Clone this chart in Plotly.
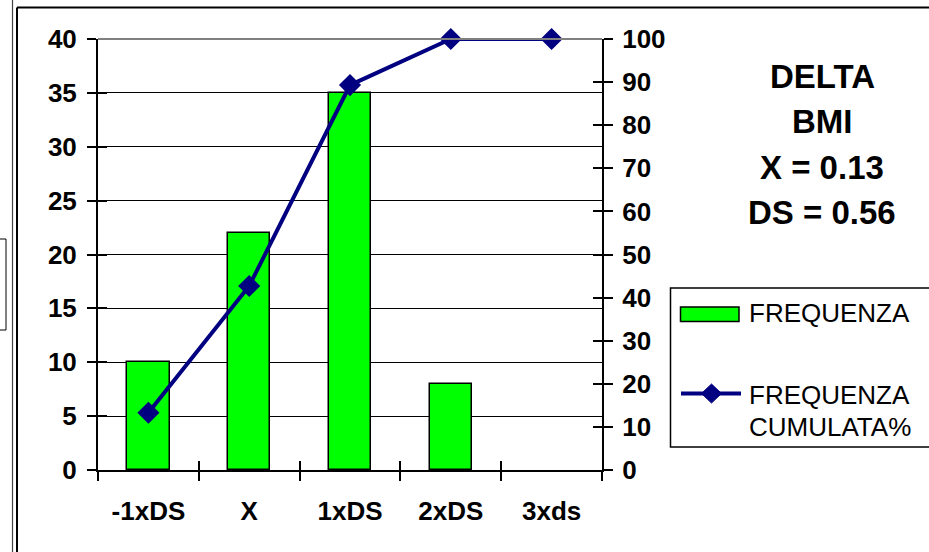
import plotly.graph_objects as go

# ---- data -----------------------------------------------------------------
categories = ["-1xDS", "X", "1xDS", "2xDS", "3xds"]
frequenza = [10, 22, 35, 8, 0]
cumulata_pct = [13.3, 42.7, 89.3, 100, 100]
left_ticks = [0, 5, 10, 15, 20, 25, 30, 35, 40]
right_ticks = [0, 10, 20, 30, 40, 50, 60, 70, 80, 90, 100]
info_lines = ["DELTA", "BMI", "X = 0.13", "DS = 0.56"]
legend_bar_label = "FREQUENZA"
legend_line_label = ["FREQUENZA", "CUMULATA%"]

# ---- geometry of the page ---------------------------------------------------
W, H = 929, 552
ML, MR, MT, MB = 98, 327, 39, 82
PW, PH = W - ML - MR, H - MT - MB


def px(x):
    """pixel x -> paper x"""
    return (x - ML) / PW


def py(y):
    """pixel y -> paper y"""
    return (H - MB - y) / PH


FONT = "Liberation Sans"
GREEN = "#00FF00"
NAVY = "#000080"

fig = go.Figure()

# empty bars get no outline
bar_outline = [1.5 if v > 0 else 0 for v in frequenza]

fig.add_trace(go.Bar(
    x=categories, y=frequenza, name=legend_bar_label,
    width=0.42,
    marker=dict(color=GREEN, line=dict(color="black", width=bar_outline)),
))

fig.add_trace(go.Scatter(
    x=categories, y=cumulata_pct, yaxis="y2",
    name="<br>".join(legend_line_label),
    mode="lines+markers", cliponaxis=False,
    line=dict(color=NAVY, width=4),
    marker=dict(symbol="diamond", size=17, color=NAVY),
))

# empty traces so the inward-tick companion axes get rendered
for xa, ya in [("x2", "y"), ("x", "y3"), ("x", "y4")]:
    fig.add_trace(go.Scatter(x=[], y=[], xaxis=xa, yaxis=ya,
                             showlegend=False, hoverinfo="skip"))

tick_font = dict(family=FONT, size=26, color="black", weight="bold")
n = len(categories)
bounds = [i - 0.5 for i in range(n + 1)]

layout_axes = dict(
    xaxis=dict(
        type="category", categoryorder="array", categoryarray=categories,
        range=[-0.5, n - 0.5], tickson="boundaries",
        ticks="outside", ticklen=9, tickwidth=1.5, tickcolor="black",
        showline=True, linecolor="black", linewidth=2,
        showgrid=False, zeroline=False, tickfont=tick_font,
        ticklabelstandoff=17,
    ),
    xaxis2=dict(
        overlaying="x", anchor="y", side="bottom", type="linear",
        range=[-0.5, n - 0.5], tickmode="array", tickvals=bounds,
        ticks="inside", ticklen=9, tickwidth=1.5, tickcolor="black",
        showticklabels=False, showgrid=False, showline=False, zeroline=False,
    ),
    yaxis=dict(
        range=[0, 40], tickmode="array", tickvals=left_ticks,
        ticks="outside", ticklen=9, tickwidth=1.5, tickcolor="black",
        showline=True, linecolor="black", linewidth=2,
        showgrid=True, gridcolor="black", gridwidth=1, zeroline=False,
        tickfont=tick_font, ticklabelstandoff=5,
    ),
    yaxis3=dict(
        overlaying="y", anchor="x", side="left",
        range=[0, 40], tickmode="array", tickvals=left_ticks,
        ticks="inside", ticklen=9, tickwidth=1.5, tickcolor="black",
        showticklabels=False, showgrid=False, showline=False, zeroline=False,
    ),
    yaxis2=dict(
        overlaying="y", anchor="x", side="right",
        range=[0, 100], tickmode="array", tickvals=right_ticks,
        ticks="outside", ticklen=9, tickwidth=1.5, tickcolor="black",
        showline=True, linecolor="black", linewidth=2,
        showgrid=False, zeroline=False, tickfont=tick_font,
        ticklabelstandoff=4,
    ),
    yaxis4=dict(
        overlaying="y", anchor="x", side="right",
        range=[0, 100], tickmode="array", tickvals=right_ticks,
        ticks="inside", ticklen=9, tickwidth=1.5, tickcolor="black",
        showticklabels=False, showgrid=False, showline=False, zeroline=False,
    ),
)

shapes = [
    # grey top edge of the plot area
    dict(type="line", xref="paper", yref="paper", x0=0, x1=1, y0=1, y1=1,
         line=dict(color="#808080", width=2), layer="above"),
    # chart frame
    dict(type="line", xref="paper", yref="paper", x0=px(12.5), x1=px(12.5),
         y0=py(-5), y1=py(H + 5), line=dict(color="#444444", width=1.2)),
    dict(type="line", xref="paper", yref="paper", x0=px(17), x1=px(17),
         y0=py(7.5), y1=py(H + 5), line=dict(color="black", width=2)),
    dict(type="line", xref="paper", yref="paper", x0=px(17), x1=px(W + 10),
         y0=py(7.5), y1=py(7.5), line=dict(color="black", width=2)),
    # neighbouring box peeking in at the left
    dict(type="rect", xref="paper", yref="paper", x0=px(-10), x1=px(6),
         y0=py(239), y1=py(330), line=dict(color="black", width=1)),
    # legend box
    dict(type="rect", xref="paper", yref="paper", x0=px(670.5), x1=px(W + 20),
         y0=py(288), y1=py(447), line=dict(color="black", width=1.5),
         fillcolor="white"),
    # legend swatch: bars
    dict(type="rect", xref="paper", yref="paper", x0=px(680.5), x1=px(739),
         y0=py(307), y1=py(321.5), line=dict(color="black", width=1.5),
         fillcolor=GREEN),
    # legend swatch: cumulative line with diamond
    dict(type="line", xref="paper", yref="paper", x0=px(681), x1=px(741),
         y0=py(393.5), y1=py(393.5), line=dict(color=NAVY, width=4)),
    dict(type="path", xref="paper", yref="paper",
         path=(f"M {px(701.5)} {py(393.5)} L {px(711.5)} {py(384)} "
               f"L {px(721.5)} {py(393.5)} L {px(711.5)} {py(403)} Z"),
         fillcolor=NAVY, line=dict(color=NAVY, width=1)),
]

annotations = []
info_centres = [76.5, 121.5, 167.5, 212]
for text, yc in zip(info_lines, info_centres):
    annotations.append(dict(
        text=text, xref="paper", yref="paper", x=px(822), y=py(yc),
        xanchor="center", yanchor="middle", showarrow=False,
        font=dict(family=FONT, size=33, color="black", weight="bold"),
    ))

legend_texts = [(legend_bar_label, 313), (legend_line_label[0], 395),
                (legend_line_label[1], 426.5)]
for text, yc in legend_texts:
    annotations.append(dict(
        text=text, xref="paper", yref="paper", x=px(747), y=py(yc),
        xanchor="left", yanchor="middle", showarrow=False,
        font=dict(family=FONT, size=26, color="black"),
    ))

fig.update_layout(
    width=W, height=H,
    margin=dict(l=ML, r=MR, t=MT, b=MB, autoexpand=False),
    paper_bgcolor="white", plot_bgcolor="white",
    showlegend=False, bargap=0,
    shapes=shapes, annotations=annotations,
    **layout_axes,
)

fig.write_html("out.html")
